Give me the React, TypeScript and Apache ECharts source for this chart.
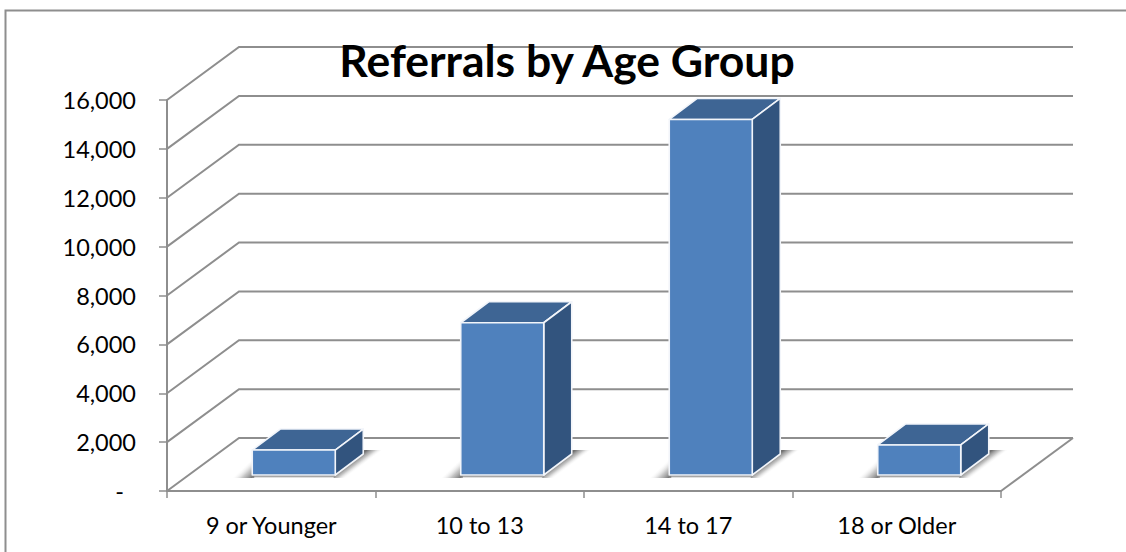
import React, { useEffect, useRef } from "react";
import * as echarts from "echarts";

const categories = ["9 or Younger", "10 to 13", "14 to 17", "18 or Older"];
const referrals = [1020, 6230, 14550, 1230];
const ticks = [0, 2000, 4000, 6000, 8000, 10000, 12000, 14000, 16000];

const WALL_DX = 72;
const WALL_DY = -53;
const BAR_DX = 28;
const BAR_DY = -21;
const BAR_FRONT_DX = 22.5;
const BAR_FRONT_DY = -16;
const BAR_WIDTH = 83;
const LINE = "#8e8e8e";
const FRONT = "#4f81bd";
const TOP = "#3e6594";
const SIDE = "#32547e";

function wallItem(params: any, api: any) {
  const v = api.value(0);
  const cs = params.coordSys;
  const y = api.coord([0, v])[1];
  const x0 = cs.x;
  const x1 = cs.x + cs.width;
  const lineStyle = { stroke: LINE, lineWidth: 2, fill: "none" };
  const children: any[] = [
    {
      type: "polyline",
      shape: { points: [[x0, y], [x0 + WALL_DX, y + WALL_DY], [x1 + WALL_DX, y + WALL_DY]] },
      style: lineStyle,
    },
  ];
  if (v === 0) {
    children.push({
      type: "line",
      shape: { x1, y1: y, x2: x1 + WALL_DX, y2: y + WALL_DY },
      style: lineStyle,
    });
  }
  return { type: "group", children };
}

function fade(x1: number, y1: number, x2: number, y2: number) {
  return new echarts.graphic.LinearGradient(x1, y1, x2, y2, [
    { offset: 0, color: "rgba(105,105,105,0.95)" },
    { offset: 0.5, color: "rgba(160,160,160,0.6)" },
    { offset: 1, color: "rgba(235,235,235,0)" },
  ]);
}

function barItem(_params: any, api: any) {
  const idx = api.value(0);
  const val = api.value(1);
  const c = api.coord([idx, val]);
  const b = api.coord([idx, 0]);
  const xl = c[0] + BAR_FRONT_DX - BAR_WIDTH / 2;
  const xr = xl + BAR_WIDTH;
  const yt = c[1] + BAR_FRONT_DY;
  const yb = b[1] + BAR_FRONT_DY;
  const edge = { stroke: "#f2f5fa", lineWidth: 1.6, lineJoin: "round" };
  return {
    type: "group",
    children: [
      {
        type: "polygon",
        shape: { points: [[xl - 20, yb + 3], [xl + 2, yb + 3], [xl + 2, yb - 18]] },
        style: { fill: fade(0.95, 0.95, 0.5, 0.5) },
      },
      {
        type: "polygon",
        shape: { points: [[xl, yb], [xr, yb], [xr, yb + 3.5], [xl, yb + 3.5]] },
        style: { fill: fade(0, 0.2, 0, 1) },
      },
      {
        type: "polygon",
        shape: {
          points: [
            [xr - 2, yb + 3],
            [xr + BAR_DX - 2, yb + BAR_DY - 4],
            [xr + BAR_DX + 20, yb + BAR_DY - 4],
            [xr + 11, yb + 3],
          ],
        },
        style: { fill: fade(0.3, 0.5, 0.5, 0.65) },
      },
      {
        type: "polygon",
        shape: { points: [[xl, yt], [xr, yt], [xr + BAR_DX, yt + BAR_DY], [xl + BAR_DX, yt + BAR_DY]] },
        style: { fill: TOP, ...edge },
      },
      {
        type: "polygon",
        shape: { points: [[xr, yt], [xr + BAR_DX, yt + BAR_DY], [xr + BAR_DX, yb + BAR_DY], [xr, yb]] },
        style: { fill: SIDE, ...edge },
      },
      {
        type: "polygon",
        shape: { points: [[xl, yt], [xr, yt], [xr, yb], [xl, yb]] },
        style: { fill: FRONT, ...edge },
      },
    ],
  };
}

export default function App() {
  const ref = useRef<HTMLDivElement>(null);
  useEffect(() => {
    const chart = echarts.init(ref.current!, null, { renderer: "svg" });
    const font = "Lato, Carlito, 'Open Sans', sans-serif";
    chart.setOption({
      animation: false,
      backgroundColor: "#ffffff",
      textStyle: { fontFamily: font },
      title: {
        text: "Referrals by Age Group",
        left: 562,
        top: 32,
        textAlign: "center",
        textStyle: { fontFamily: font, fontSize: 44.5, fontWeight: "bold", color: "#000" },
        z: 10,
      },
      grid: { left: 167, top: 100, width: 834, height: 391 },
      xAxis: {
        type: "category",
        data: categories,
        axisLine: { lineStyle: { color: LINE, width: 2 } },
        axisTick: { show: true, length: 7, alignWithLabel: false, lineStyle: { color: LINE, width: 1.5 } },
        axisLabel: { color: "#000", fontSize: 23.5, margin: 22, fontFamily: font },
      },
      yAxis: {
        type: "value",
        min: 0,
        max: 16000,
        interval: 2000,
        splitLine: { show: false },
        axisLine: { show: true, lineStyle: { color: LINE, width: 2 } },
        axisTick: { show: true, length: 8, lineStyle: { color: LINE, width: 1.5 } },
        axisLabel: {
          color: "#000",
          fontSize: 23.5,
          margin: 31,
          padding: [3, 0, 0, 0],
          fontFamily: font,
          formatter: (v: number) => (v === 0 ? "-\u00a0\u00a0" : v.toLocaleString("en-US")),
        },
      },
      series: [
        {
          type: "custom",
          renderItem: wallItem,
          data: ticks.map((t) => [t]),
          encode: { y: 0 },
          silent: true,
          clip: false,
          z: 1,
        },
        {
          type: "custom",
          renderItem: barItem,
          data: referrals.map((v, i) => [i, v]),
          encode: { x: 0, y: 1 },
          silent: true,
          clip: false,
          z: 2,
        },
      ],
      graphic: [
        {
          type: "polyline",
          shape: { points: [[5.5, 552], [5.5, 10.5], [1126, 10.5]] },
          style: { fill: "none", stroke: LINE, lineWidth: 2 },
          silent: true,
          z: 0,
        },
      ],
    });
    return () => chart.dispose();
  }, []);
  return <div ref={ref} style={{ position: "absolute", left: 0, top: 0, width: 1126, height: 552 }} />;
}
